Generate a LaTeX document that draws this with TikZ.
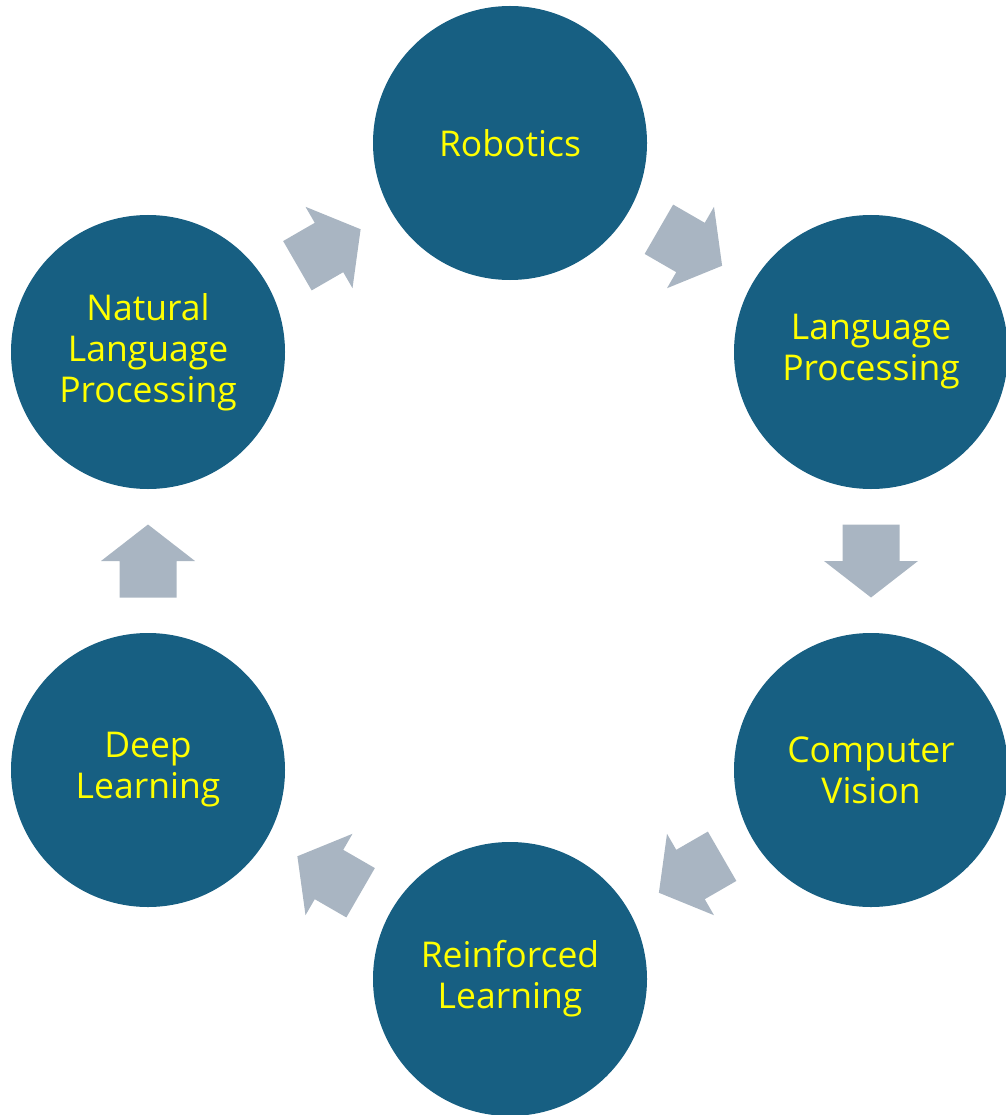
\documentclass[tikz,border=0pt]{standalone}
\usepackage{fontspec}
\setmainfont{Open Sans}
\usetikzlibrary{calc}
\definecolor{circblue}{RGB}{23,95,130}
\definecolor{arrgray}{RGB}{169,181,194}
\definecolor{txtyellow}{RGB}{255,255,0}
\tikzset{
  bubble/.style={circle, fill=circblue, minimum size=274pt, inner sep=0pt,
    text=txtyellow, align=center, font=\fontsize{35.5}{41}\selectfont},
}
\begin{document}
\begin{tikzpicture}[x=1pt,y=-1pt]
\useasboundingbox (0,0) rectangle (1005,1115);
\node[bubble] (rob) at (510,143) {Robotics};
\node[bubble] (lp)  at (871,352) {Language\\Processing};
\node[bubble] (cv)  at (871,770) {Computer\\Vision};
\node[bubble] (rl)  at (510,979) {Reinforced\\Learning};
\node[bubble] (dl)  at (148,770) {Deep\\Learning};
\node[bubble] (nlp) at (148,352) {Natural\\Language\\Processing};
\foreach \a/\b/\ang in {rob/lp/-30, lp/cv/-90, cv/rl/-150, rl/dl/150, dl/nlp/90, nlp/rob/30}{
  \begin{scope}[shift={($(\a)!0.5!(\b)$)}, rotate=\ang]
    \fill[arrgray] (-36.5,-28.5) -- (0,-28.5) -- (0,-47) -- (36.5,0) -- (0,47) -- (0,28.5) -- (-36.5,28.5) -- cycle;
  \end{scope}
}
\end{tikzpicture}
\end{document}
